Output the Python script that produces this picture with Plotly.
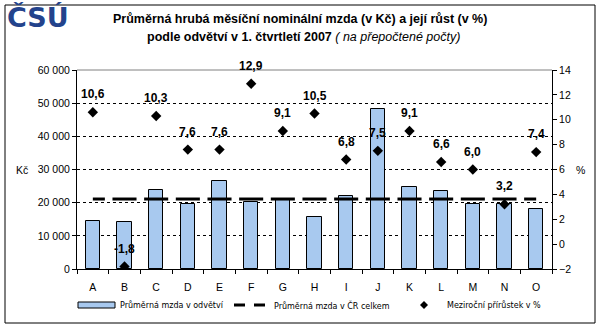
import plotly.graph_objects as go

# ---- data ----
categories = ["A", "B", "C", "D", "E", "F", "G", "H", "I", "J", "K", "L", "M", "N", "O"]
wage_sector = [14600, 14300, 23700, 19600, 26500, 20300, 21000, 15700, 22100, 48300, 24800, 23600, 19500, 19500, 18000]
wage_cr_total = 21100
growth_pct = [10.6, -1.8, 10.3, 7.6, 7.6, 12.9, 9.1, 10.5, 6.8, 7.5, 9.1, 6.6, 6.0, 3.2, 7.4]
left_ticks = [0, 10000, 20000, 30000, 40000, 50000, 60000]
right_ticks = [-2, 0, 2, 4, 6, 8, 10, 12, 14]
series_names = ["Průměrná mzda v odvětví", "Průměrná mzda v ČR celkem", "Meziroční přírůstek v %"]

# ---- layout helpers (pixel -> paper) ----
W, H = 600, 328
L, R, T, B = 77, 552, 70, 269
def px_x(x):
    return (x - L) / (R - L)
def px_y(y):
    return (B - y) / (B - T)

idx = list(range(len(categories)))
FONT = "Arial, Liberation Sans, sans-serif"
BAR_COLOR = "#a8c9ef"

fig = go.Figure()

fig.add_trace(go.Bar(
    x=idx, y=wage_sector, width=0.45, name=series_names[0],
    marker=dict(color=BAR_COLOR, line=dict(color="black", width=1)),
    xaxis="x", yaxis="y", showlegend=False,
))

# average line: one dash per category (clipped at ends)
ax, ay = [], []
half = 0.38
for i in idx:
    ax += [max(i - half, idx[0]), min(i + half, idx[-1]), None]
    ay += [wage_cr_total, wage_cr_total, None]
fig.add_trace(go.Scatter(
    x=ax, y=ay, mode="lines", line=dict(color="black", width=3), name=series_names[1],
    showlegend=False, xaxis="x", yaxis="y", connectgaps=False,
))

fig.add_trace(go.Scatter(
    x=idx, y=growth_pct, mode="markers", name=series_names[2],
    marker=dict(symbol="diamond", size=8, color="black"),
    xaxis="x", yaxis="y2", showlegend=False,
))

annotations = []
for i, v in zip(idx, growth_pct):
    annotations.append(dict(
        x=i, y=v, xref="x", yref="y2", text=f"{v:.1f}".replace(".", ","),
        showarrow=False, yshift=18, yanchor="middle",
        font=dict(family=FONT, size=12, color="black", weight="bold"),
    ))

# titles
annotations.append(dict(
    x=px_x(300), y=px_y(19), xref="paper", yref="paper", showarrow=False,
    text="<b>Průměrná hrubá měsíční nominální mzda (v Kč) a její růst (v %)</b>",
    font=dict(family=FONT, size=12.5, color="black"), xanchor="center", yanchor="middle",
))
annotations.append(dict(
    x=px_x(303), y=px_y(37), xref="paper", yref="paper", showarrow=False,
    text="<b>podle odvětví v 1. čtvrtletí 2007</b> <i>( na přepočtené počty)</i>",
    font=dict(family=FONT, size=12.5, color="black"), xanchor="center", yanchor="middle",
))
# logo
annotations.append(dict(
    x=px_x(5), y=px_y(17), xref="paper", yref="paper", showarrow=False,
    text="<b>ČSÚ</b>", font=dict(family="DejaVu Sans, sans-serif", size=27, color="#23438c"),
    xanchor="left", yanchor="middle",
))
# axis unit labels
annotations.append(dict(
    x=px_x(14), y=30000, xref="paper", yref="y", showarrow=False, text="Kč",
    font=dict(family=FONT, size=10.5, color="black"), xanchor="left", yanchor="middle",
))
annotations.append(dict(
    x=px_x(574), y=6, xref="paper", yref="y2", showarrow=False, text="%",
    font=dict(family=FONT, size=10.5, color="black"), xanchor="left", yanchor="middle",
))

# ---- manual legend ----
LEG_Y = 305
LEG_FONT = dict(family="DejaVu Sans, sans-serif", size=8, color="black")
legend_text_x = [118, 272, 445]
for name, lx in zip(series_names, legend_text_x):
    annotations.append(dict(
        x=px_x(lx), y=px_y(LEG_Y), xref="paper", yref="paper", showarrow=False,
        text=name, font=LEG_FONT, xanchor="left", yanchor="middle",
    ))

shapes = [
    dict(type="rect", xref="paper", yref="paper", x0=px_x(5), x1=px_x(595),
         y0=px_y(323), y1=px_y(5), line=dict(color="black", width=1)),
    dict(type="line", xref="paper", yref="paper", x0=0, x1=1, y0=1, y1=1,
         line=dict(color="#808080", width=1)),
    # legend swatches
    dict(type="rect", xref="paper", yref="paper", x0=px_x(78), x1=px_x(115),
         y0=px_y(308), y1=px_y(302), fillcolor=BAR_COLOR, line=dict(color="black", width=1)),
    dict(type="line", xref="paper", yref="paper", x0=px_x(234), x1=px_x(245),
         y0=px_y(LEG_Y), y1=px_y(LEG_Y), line=dict(color="black", width=3)),
    dict(type="line", xref="paper", yref="paper", x0=px_x(254), x1=px_x(265),
         y0=px_y(LEG_Y), y1=px_y(LEG_Y), line=dict(color="black", width=3)),
    dict(type="path", xref="paper", yref="paper",
         path=(f"M {px_x(424)} {px_y(LEG_Y - 4)} L {px_x(428)} {px_y(LEG_Y)} "
               f"L {px_x(424)} {px_y(LEG_Y + 4)} L {px_x(420)} {px_y(LEG_Y)} Z"),
         fillcolor="black", line=dict(color="black", width=0)),
]

fig.update_layout(
    width=W, height=H,
    margin=dict(l=L, r=W - R, t=T, b=H - B),
    paper_bgcolor="white", plot_bgcolor="white",
    separators=", ",
    font=dict(family=FONT, size=10.5, color="black"),
    bargap=0, showlegend=False,
    xaxis=dict(
        range=[-0.5, len(categories) - 0.5], tickmode="array", tickvals=idx, ticktext=categories,
        ticks="", showgrid=False, zeroline=False, showline=True, linecolor="black", linewidth=1,
        minor=dict(tick0=-0.5, dtick=1, ticks="outside", ticklen=4, tickcolor="black", showgrid=False),
        tickfont=dict(family=FONT, size=10.5), ticklabelstandoff=8,
    ),
    yaxis=dict(
        range=[0, 60000], tickmode="array", tickvals=left_ticks, tickformat=",d",
        ticks="outside", ticklen=4, tickcolor="black", showline=True, linecolor="black",
        showgrid=True, gridcolor="black", gridwidth=1, griddash="3px,3px", zeroline=False,
        tickfont=dict(family=FONT, size=10.5),
    ),
    yaxis2=dict(
        range=[-2, 14], overlaying="y", side="right", tickmode="array", tickvals=right_ticks,
        ticks="outside", ticklen=4, tickcolor="black", showline=True, linecolor="black",
        showgrid=False, zeroline=False, tickfont=dict(family=FONT, size=10.5),
    ),
    annotations=annotations, shapes=shapes,
)

fig.write_html("out.html")
